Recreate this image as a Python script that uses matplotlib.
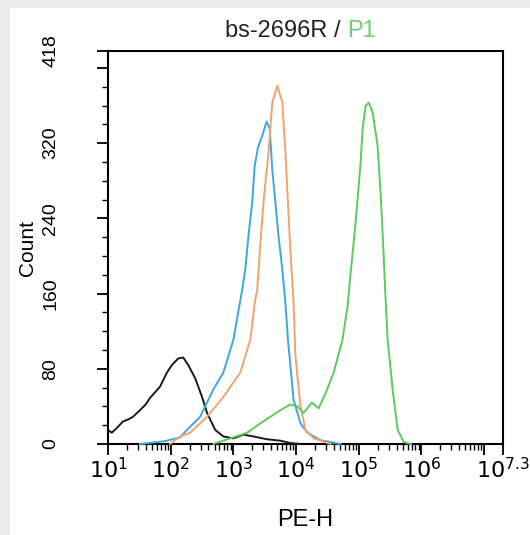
import numpy as np
import matplotlib
matplotlib.use("Agg")
from matplotlib import pyplot as plt
from matplotlib.patches import Rectangle
from matplotlib.ticker import FixedLocator, NullFormatter

plt.rcParams['font.family'] = ['Liberation Sans', 'DejaVu Sans']

black_exp = [1.00, 1.06, 1.14, 1.24, 1.32, 1.40, 1.51, 1.60, 1.67, 1.83, 1.94, 2.02, 2.12, 2.20,
             2.28, 2.39, 2.50, 2.58, 2.71, 2.84, 3.00, 3.16, 3.32, 3.54, 3.75, 3.91, 4.07]
black_cnt = [15, 12, 17, 24, 26, 29, 36, 42, 49, 61, 76, 84, 91, 92,
             84, 70, 50, 33, 15, 8, 6, 10, 8, 5, 3.5, 1, 0]

blue_exp = [1.51, 1.91, 2.15, 2.26, 2.47, 2.68, 2.84, 3.00, 3.14, 3.19, 3.24, 3.30, 3.34, 3.39,
            3.46, 3.53, 3.58, 3.62, 3.67, 3.72, 3.78, 3.83, 3.87, 3.96, 4.07, 4.18, 4.39, 4.71]
blue_cnt = [0, 3, 7, 15, 29, 58, 76, 111, 164, 186, 221, 257, 296, 315,
            328, 343, 335, 292, 257, 221, 186, 150, 111, 47, 22, 12, 4, 0]

orange_exp = [1.99, 2.15, 2.31, 2.58, 2.84, 3.11, 3.27, 3.34, 3.38, 3.42, 3.48, 3.56, 3.62, 3.70,
              3.78, 3.83, 3.87, 3.91, 3.96, 3.99, 4.07, 4.15, 4.28, 4.55]
orange_cnt = [0, 8, 12, 29, 50, 76, 111, 150, 164, 204, 257, 310, 363, 381,
              364, 310, 257, 204, 150, 93, 40, 15, 6, 0]

green_exp = [2.68, 2.95, 3.22, 3.43, 3.59, 3.75, 3.91, 4.02, 4.12, 4.25, 4.36, 4.47, 4.60, 4.74,
             4.82, 4.87, 4.95, 5.03, 5.06, 5.11, 5.16, 5.22, 5.30, 5.35, 5.39, 5.43, 5.46, 5.54,
             5.62, 5.72, 5.83]
green_cnt = [0, 6, 12, 22, 29, 36, 42, 40, 33, 44, 38, 54, 76, 111,
             146, 182, 236, 300, 335, 360, 363, 353, 317, 264, 210, 150, 111, 58,
             15, 2, 0]

y_ticks = [0, 80, 160, 240, 320, 400, 418]
y_labels = ['0', '80', '160', '240', '320', '', '418']
x_exps = [1, 2, 3, 4, 5, 6, 7, 7.3]
x_labels = ['$10^{1}$', '$10^{2}$', '$10^{3}$', '$10^{4}$', '$10^{5}$', '$10^{6}$', '', '$10^{7.3}$']

fig = plt.figure(figsize=(5.3, 5.35), dpi=100, facecolor='#ebebeb')
fig.patches.append(Rectangle((10 / 530, 0), 1, 1 - 8 / 535, transform=fig.transFigure,
                             facecolor='white', edgecolor='none', zorder=-1))
ax = fig.add_axes([108 / 530, 1 - 444 / 535, 395 / 530, 393 / 535])
ax.set_facecolor('white')

series = [(black_exp, black_cnt, '#1a1a1a'),
          (blue_exp, blue_cnt, '#3aaade'),
          (orange_exp, orange_cnt, '#f2a46e'),
          (green_exp, green_cnt, '#5dca5d')]
for xe, cnt, col in series:
    ax.plot(10 ** np.array(xe), cnt, color=col, lw=1.4, clip_on=False, zorder=3)

ax.set_xscale('log')
ax.set_xlim(10, 10 ** 7.3)
ax.set_ylim(0, 418)

ax.xaxis.set_major_locator(FixedLocator([10 ** e for e in x_exps]))
ax.set_xticklabels(x_labels)
minor_x = [k * 10 ** d for d in range(1, 8) for k in range(2, 10) if k * 10 ** d < 10 ** 7.3]
ax.xaxis.set_minor_locator(FixedLocator(minor_x))
ax.xaxis.set_minor_formatter(NullFormatter())

ax.set_yticks(y_ticks)
ax.set_yticklabels(y_labels, rotation=90, va='center')
ax.set_yticks(np.arange(20, 418, 20), minor=True)

for s in ax.spines.values():
    s.set_linewidth(1.5)
ax.tick_params(which='major', direction='out', length=8, width=1.3, labelsize=16, pad=2)
ax.tick_params(which='minor', direction='out', length=4, width=1.0)
ax.tick_params(axis='y', which='major', labelsize=14, pad=27)

ax.set_ylabel('Count', fontsize=15, labelpad=4)
ax.set_xlabel('PE-H', fontsize=17, labelpad=19)

fig.text(0.655, 1 - 37 / 535, 'bs-2696R / ', ha='right', va='baseline', fontsize=17, color='#222222')
fig.text(0.655, 1 - 37 / 535, 'P1', ha='left', va='baseline', fontsize=17, color='#6fd06f')

fig.savefig('out.png', dpi=100, facecolor=fig.get_facecolor())
